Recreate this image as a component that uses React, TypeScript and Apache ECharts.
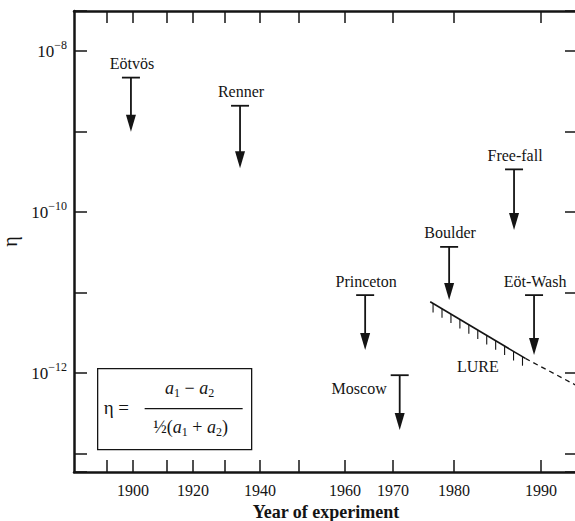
import React, { useEffect, useRef } from 'react';
import * as echarts from 'echarts';

// ---- data ----
const experiments = ['Eötvös', 'Renner', 'Princeton', 'Moscow', 'Boulder', 'Free-fall', 'Eöt-Wash'];
const experimentYears = [1899.2, 1934.3, 1964.2, 1971.1, 1979.2, 1986.9, 1989.2];
const upperLimits = [4.7e-9, 2.1e-9, 9.3e-12, 9.4e-13, 3.7e-11, 3.4e-10, 9.3e-12];
const arrowTips = [1.0e-9, 3.5e-10, 1.93e-12, 1.96e-13, 8.1e-12, 6.0e-11, 1.67e-12];
const labelSides = ['above', 'above', 'above', 'left', 'above', 'above', 'above'];

const lureYears = [1976.1, 1988.2];
const lureValues = [7.7e-12, 1.52e-12];
const projectionYears = [1988.2, 1994.3];
const projectionValues = [1.52e-12, 6.8e-13];

// non-uniform year axis of the original figure (year -> position in % of axis)
const tickYears = [1890, 1900, 1910, 1920, 1930, 1940, 1950, 1960, 1970, 1980, 1990];
const tickStops = [6.55, 11.71, 18.45, 23.61, 29.96, 36.9, 44.64, 53.77, 63.29, 75.4, 92.66];
const labelYears = [1900, 1920, 1940, 1960, 1970, 1980, 1990];

const yMin = Math.pow(10, -13.23);
const yMax = Math.pow(10, -7.5);

function warp(year: number): number {
  const n = tickYears.length;
  let i = 0;
  if (year <= tickYears[0]) i = 0;
  else if (year >= tickYears[n - 1]) i = n - 2;
  else {
    while (i < n - 2 && year > tickYears[i + 1]) i++;
  }
  const t = (year - tickYears[i]) / (tickYears[i + 1] - tickYears[i]);
  return tickStops[i] + t * (tickStops[i + 1] - tickStops[i]);
}

function unwarp(u: number): number {
  const n = tickStops.length;
  let i = 0;
  if (u <= tickStops[0]) i = 0;
  else if (u >= tickStops[n - 1]) i = n - 2;
  else {
    while (i < n - 2 && u > tickStops[i + 1]) i++;
  }
  const t = (u - tickStops[i]) / (tickStops[i + 1] - tickStops[i]);
  return tickYears[i] + t * (tickYears[i + 1] - tickYears[i]);
}

const SERIF = 'Liberation Serif';
const INK = '#141414';

export default function App() {
  const ref = useRef<HTMLDivElement>(null);

  useEffect(() => {
    if (!ref.current) return;
    const chart = echarts.init(ref.current, undefined, { renderer: 'svg' });

    const limitData = experiments.map((_, i) => [warp(experimentYears[i]), upperLimits[i], arrowTips[i]]);
    const lureData = [[warp(lureYears[0]), lureValues[0], warp(lureYears[1]), lureValues[1]]];
    const projData = projectionYears.map((y, i) => [warp(y), projectionValues[i]]);

    const xCommon = {
      type: 'value' as const,
      min: 0,
      max: 100,
      splitLine: { show: false },
      axisLine: { show: true, onZero: false, lineStyle: { color: INK, width: 2.5 } },
    };

    const yCommon = {
      type: 'log' as const,
      logBase: 10,
      min: yMin,
      max: yMax,
      splitLine: { show: false },
      axisLine: { show: true, onZero: false, lineStyle: { color: INK, width: 2.5 } },
      axisTick: { show: true, inside: true, length: 13, lineStyle: { color: INK, width: 1.5 } },
    };

    const txt = (text: string, x: number, y: number, align: string) => ({
      type: 'text',
      style: { text, x, y, align, verticalAlign: 'middle', fontFamily: SERIF, fontSize: 16, fill: INK },
    });

    const fracRich = {
      i: { fontFamily: SERIF, fontStyle: 'italic', fontSize: 18, lineHeight: 22, fill: INK, verticalAlign: 'middle' },
      n: { fontFamily: SERIF, fontSize: 18, lineHeight: 22, fill: INK, verticalAlign: 'middle' },
      s: { fontFamily: SERIF, fontSize: 12, lineHeight: 12, fill: INK, verticalAlign: 'bottom' },
    };

    chart.setOption({
      animation: false,
      backgroundColor: '#ffffff',
      textStyle: { fontFamily: SERIF, color: INK },
      grid: { left: 74, right: -3, top: 11, bottom: 49, containLabel: false, outerBoundsMode: 'none' },
      xAxis: [
        {
          ...xCommon,
          position: 'bottom',
          axisTick: {
            show: true,
            inside: true,
            length: 12,
            customValues: tickYears.map(warp),
            lineStyle: { color: INK, width: 1.5 },
          },
          axisLabel: {
            show: true,
            customValues: labelYears.map(warp),
            formatter: (v: number) => String(Math.round(unwarp(v))),
            fontFamily: SERIF,
            fontSize: 16,
            color: INK,
            margin: 10,
          },
          name: 'Year of experiment',
          nameLocation: 'middle',
          nameGap: 29,
          nameTextStyle: { fontFamily: SERIF, fontSize: 18, fontWeight: 'bold', color: INK },
        },
        {
          ...xCommon,
          position: 'top',
          axisTick: {
            show: true,
            inside: true,
            length: 12,
            customValues: tickYears.map(warp),
            lineStyle: { color: INK, width: 1.5 },
          },
          axisLabel: { show: false },
        },
      ],
      yAxis: [
        {
          ...yCommon,
          position: 'left',
          axisLabel: {
            show: true,
            margin: 7,
            formatter: (v: number) => {
              const lg = Math.log10(v);
              const e = Math.round(lg);
              if (Math.abs(lg - e) > 0.01) return '';
              if (e % 2 !== 0) return '';
              return '{b|10}{s|\u2212' + String(-e) + '}';
            },
            rich: {
              b: { fontFamily: SERIF, fontSize: 17, lineHeight: 24, color: INK, verticalAlign: 'middle' },
              s: { fontFamily: SERIF, fontSize: 12, lineHeight: 12, color: INK, verticalAlign: 'top' },
            },
          },
          name: '\u03B7',
          nameLocation: 'middle',
          nameGap: 49,
          nameTextStyle: { fontFamily: SERIF, fontSize: 20, color: INK },
        },
        {
          ...yCommon,
          position: 'right',
          axisLabel: { show: false },
        },
      ],
      series: [
        {
          type: 'custom',
          name: 'limits',
          silent: true,
          xAxisIndex: 0,
          yAxisIndex: 0,
          encode: { x: 0, y: [1, 2] },
          data: limitData,
          renderItem: (params: any, api: any) => {
            const i = params.dataIndex;
            const top = api.coord([api.value(0), api.value(1)]);
            const tip = api.coord([api.value(0), api.value(2)]);
            const x = top[0];
            const headH = 17;
            const headW = 5;
            const label =
              labelSides[i] === 'left'
                ? txt(experiments[i], x - 13, top[1] + 13, 'right')
                : txt(experiments[i], x + 1, top[1] - 14, 'center');
            return {
              type: 'group',
              children: [
                { type: 'line', shape: { x1: x - 9, y1: top[1], x2: x + 9, y2: top[1] }, style: { stroke: INK, lineWidth: 1.8 } },
                { type: 'line', shape: { x1: x, y1: top[1], x2: x, y2: tip[1] - headH + 2 }, style: { stroke: INK, lineWidth: 1.8 } },
                {
                  type: 'polygon',
                  shape: { points: [[x - headW, tip[1] - headH], [x + headW, tip[1] - headH], [x, tip[1]]] },
                  style: { fill: INK },
                },
                label,
              ],
            };
          },
        },
        {
          type: 'custom',
          name: 'LURE',
          silent: true,
          xAxisIndex: 0,
          yAxisIndex: 0,
          encode: { x: [0, 2], y: [1, 3] },
          data: lureData,
          renderItem: (params: any, api: any) => {
            const a = api.coord([api.value(0), api.value(1)]);
            const b = api.coord([api.value(2), api.value(3)]);
            const children: any[] = [
              { type: 'line', shape: { x1: a[0], y1: a[1], x2: b[0], y2: b[1] }, style: { stroke: INK, lineWidth: 1.6 } },
            ];
            const n = 11;
            for (let k = 0; k < n; k++) {
              const t = 0.03 + (k / (n - 1)) * 0.94;
              const hx = a[0] + t * (b[0] - a[0]);
              const hy = a[1] + t * (b[1] - a[1]);
              children.push({ type: 'line', shape: { x1: hx, y1: hy, x2: hx, y2: hy + 9 }, style: { stroke: INK, lineWidth: 1.1 } });
            }
            children.push(txt('LURE', (a[0] + b[0]) / 2, (a[1] + b[1]) / 2 + 36, 'center'));
            return { type: 'group', children };
          },
        },
        {
          type: 'line',
          name: 'projection',
          silent: true,
          xAxisIndex: 0,
          yAxisIndex: 0,
          data: projData,
          symbol: 'none',
          lineStyle: { color: INK, width: 1.3, type: [5, 4] },
        },
      ],
      graphic: [
        {
          type: 'group',
          left: 97,
          top: 368,
          children: [
            { type: 'rect', shape: { x: 0, y: 0, width: 154, height: 81 }, style: { fill: '#fff', stroke: INK, lineWidth: 1.3 } },
            {
              type: 'text',
              style: { text: '\u03B7 =', x: 6, y: 39, align: 'left', verticalAlign: 'middle', fontFamily: SERIF, fontSize: 19, fill: INK },
            },
            {
              type: 'text',
              style: {
                text: '{i|a}{s|1}{n| \u2212 }{i|a}{s|2}',
                x: 92,
                y: 19,
                align: 'center',
                verticalAlign: 'middle',
                rich: fracRich,
              },
            },
            { type: 'line', shape: { x1: 47, y1: 40, x2: 145, y2: 40 }, style: { stroke: INK, lineWidth: 1.3 } },
            {
              type: 'text',
              style: {
                text: '{n|\u00BD(}{i|a}{s|1}{n| + }{i|a}{s|2}{n|)}',
                x: 93,
                y: 58,
                align: 'center',
                verticalAlign: 'middle',
                rich: fracRich,
              },
            },
          ],
        },
      ],
    });

    return () => chart.dispose();
  }, []);

  return <div ref={ref} style={{ position: 'fixed', left: 0, top: 0, width: 575, height: 521, background: '#fff' }} />;
}
